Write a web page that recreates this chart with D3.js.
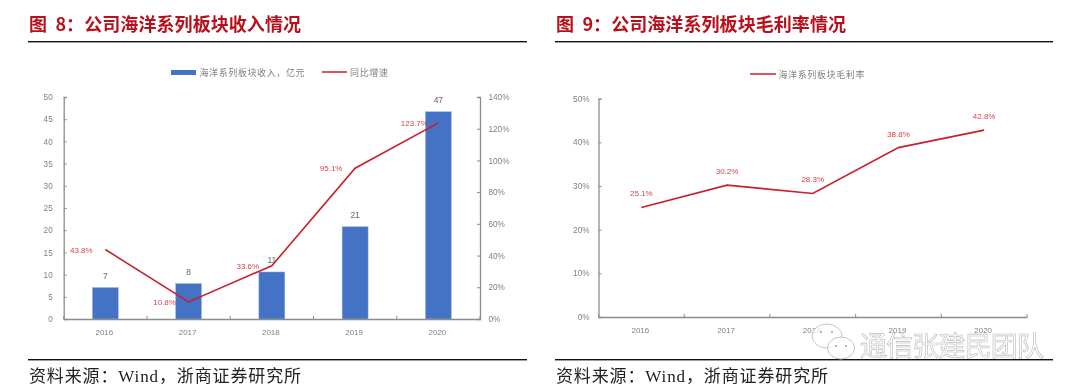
<!DOCTYPE html>
<html><head><meta charset="utf-8">
<script src="https://cdn.jsdelivr.net/npm/d3@7/dist/d3.min.js"></script>
<style>
html,body{margin:0;padding:0;background:#fff;overflow:hidden}
svg{display:block;font-family:"Noto Sans CJK SC","Noto Sans",sans-serif;filter:blur(0.35px)}
</style></head><body><svg id="c" width="1080" height="392"></svg>
<script>
const years = ["2016","2017","2018","2019","2020"];
const revenue = [7.1, 8.0, 10.6, 20.8, 46.7];
const revenueLabels = ["7","8","11","21","47"];
const growth = [43.8, 10.8, 33.6, 95.1, 123.7];
const margin = [25.1, 30.2, 28.3, 38.8, 42.8];
const leftTicks = [0,5,10,15,20,25,30,35,40,45,50];
const growthTicks = [0,20,40,60,80,100,120,140];
const marginTicks = [0,10,20,30,40,50];
const titleL = "图  8：公司海洋系列板块收入情况";
const titleR = "图  9：公司海洋系列板块毛利率情况";
const sourceText = "资料来源：Wind，浙商证券研究所";
const legendBar = "海洋系列板块收入，亿元";
const legendGrowth = "同比增速";
const legendMargin = "海洋系列板块毛利率";
const watermark = "通信张建民团队";

const RED="#c9202b", LBL="#d8434d", AX="#8c8c8c", TXT="#808080", BLUE="#4472c4";
const LATIN="'Liberation Sans','Noto Sans',sans-serif";
const svg=d3.select("#c");

function frame(x0,x1,title,tw){
  svg.append("text").attr("x",x0+1).attr("y",31).attr("font-size",18).attr("font-weight",700)
    .attr("fill","#b80f1a").attr("xml:space","preserve").attr("textLength",tw).text(title);
  svg.append("rect").attr("x",x0).attr("y",41).attr("width",x1-x0).attr("height",1.4).attr("fill","#111");
  svg.append("rect").attr("x",x0).attr("y",359).attr("width",x1-x0).attr("height",1.4).attr("fill","#111");
  svg.append("text").attr("x",x0+1).attr("y",382).attr("font-size",17)
    .style("font-family","'Liberation Serif','Noto Sans CJK SC',serif").attr("fill","#222")
    .attr("textLength",272).text(sourceText);
}
function styleAxis(g,size){
  g.select(".domain").attr("stroke",AX).attr("stroke-width",1.3);
  g.selectAll("line").attr("stroke",AX).attr("stroke-width",1);
  g.selectAll("text").attr("fill",TXT).attr("font-size",size||8).style("font-family",LATIN);
}
function xAxisWithEdges(gx,x,y0){
  const a=d3.axisBottom(x).tickSize(0).tickPadding(10);
  gx.attr("transform",`translate(0,${y0})`).call(a);
  styleAxis(gx,8);
  gx.selectAll(".tick text").attr("dx",-1);
  const edges=years.map(d=>x(d)).concat([x.range()[1]]);
  gx.selectAll(".edge").data(edges).join("line").attr("class","edge")
    .attr("x1",d=>d).attr("x2",d=>d).attr("y1",0).attr("y2",-3).attr("stroke",AX);
}

/* Left chart */
frame(28,527,titleL,272);
{
  const y0=319,y1=97,xa=63.7,xb=480;
  const x=d3.scaleBand().domain(years).range([xa,xb]);
  const y=d3.scaleLinear().domain([0,50]).range([y0,y1]);
  const y2=d3.scaleLinear().domain([0,140]).range([y0,y1]);
  const cx=d=>x(d)+x.bandwidth()/2;
  const barW=26;
  svg.selectAll(".bar").data(years).join("rect").attr("class","bar")
    .attr("x",d=>cx(d)-barW/2).attr("width",barW)
    .attr("y",(d,i)=>y(revenue[i])).attr("height",(d,i)=>y0-y(revenue[i])).attr("fill",BLUE)
    .attr("stroke","#a9bfe6").attr("stroke-width",.5);
  const gl=svg.append("g").attr("transform",`translate(${xa},0)`)
    .call(d3.axisLeft(y).tickValues(leftTicks).tickSize(-3).tickSizeOuter(-3).tickPadding(11));
  styleAxis(gl,8.2);
  const gr=svg.append("g").attr("transform",`translate(${xb},0)`)
    .call(d3.axisRight(y2).tickValues(growthTicks).tickFormat(d=>d+"%").tickSize(-3).tickSizeOuter(-3).tickPadding(8.5));
  styleAxis(gr,8.2);
  xAxisWithEdges(svg.append("g"),x,y0);
  svg.append("path").datum(growth).attr("fill","none").attr("stroke",RED).attr("stroke-width",1.6)
    .attr("d",d3.line().x((d,i)=>cx(years[i])).y(d=>y2(d)));
  svg.selectAll(".bl").data(revenueLabels).join("text").attr("class","bl")
    .attr("x",(d,i)=>cx(years[i])).attr("y",(d,i)=>y(revenue[i])-8.5).attr("text-anchor","middle")
    .attr("font-size",8.5).attr("fill","#666").style("font-family",LATIN).text(d=>d);
  svg.selectAll(".gl").data(growth).join("text").attr("class","gl")
    .attr("x",(d,i)=>cx(years[i])-24).attr("y",d=>y2(d)+3).attr("text-anchor","middle")
    .attr("font-size",8).attr("fill",LBL).style("font-family",LATIN).text(d=>d.toFixed(1)+"%");
  svg.append("rect").attr("x",171).attr("y",70).attr("width",25).attr("height",5).attr("fill",BLUE);
  svg.append("text").attr("x",199.5).attr("y",75.5).attr("font-size",9).attr("fill",TXT).attr("textLength",105).text(legendBar);
  svg.append("line").attr("x1",322).attr("x2",347).attr("y1",72).attr("y2",72).attr("stroke",RED).attr("stroke-width",1.5);
  svg.append("text").attr("x",350).attr("y",75.5).attr("font-size",9).attr("fill",TXT).attr("textLength",38).text(legendGrowth);
}

/* Right chart */
frame(555,1053,titleR,290);
{
  const y0=317,y1=98.7,xa=598.5,xb=1027;
  const x=d3.scaleBand().domain(years).range([xa,xb]);
  const y=d3.scaleLinear().domain([0,50]).range([y0,y1]);
  const cx=d=>x(d)+x.bandwidth()/2;
  const gl=svg.append("g").attr("transform",`translate(${xa},0)`)
    .call(d3.axisLeft(y).tickValues(marginTicks).tickFormat(d=>d+"%").tickSize(-3).tickSizeOuter(-3).tickPadding(9));
  styleAxis(gl,8.2);
  xAxisWithEdges(svg.append("g"),x,y0);
  svg.append("path").datum(margin).attr("fill","none").attr("stroke",RED).attr("stroke-width",1.6)
    .attr("d",d3.line().x((d,i)=>cx(years[i])).y(d=>y(d)));
  svg.selectAll(".ml").data(margin).join("text").attr("class","ml")
    .attr("x",(d,i)=>cx(years[i])).attr("y",d=>y(d)-11).attr("text-anchor","middle")
    .attr("font-size",8).attr("fill",LBL).style("font-family",LATIN).text(d=>d.toFixed(1)+"%");
  svg.append("line").attr("x1",750).attr("x2",776).attr("y1",74).attr("y2",74).attr("stroke",RED).attr("stroke-width",1.5);
  svg.append("text").attr("x",778.5).attr("y",77.5).attr("font-size",9).attr("fill",TXT).attr("textLength",86).text(legendMargin);
}

/* Watermark */
{
  const g=svg.append("g");
  const st=s=>s.attr("fill","#fff").attr("fill-opacity",.8).attr("stroke","#c4c4c4").attr("stroke-width",1);
  st(g.append("ellipse").attr("cx",827).attr("cy",336).attr("rx",15).attr("ry",12));
  st(g.append("ellipse").attr("cx",841).attr("cy",348).attr("rx",13.5).attr("ry",11));
  [[821,332],[832,332],[836,346],[846,346]].forEach(p=>g.append("circle").attr("cx",p[0]).attr("cy",p[1]).attr("r",1.1).attr("fill","#a8a8a8"));
  g.append("text").attr("x",860).attr("y",355.5).attr("font-size",27)
    .attr("fill","#fff").attr("fill-opacity",.3).attr("stroke","#b8b8b8").attr("stroke-width",.6).attr("textLength",184).text(watermark);
}
</script></body></html>
